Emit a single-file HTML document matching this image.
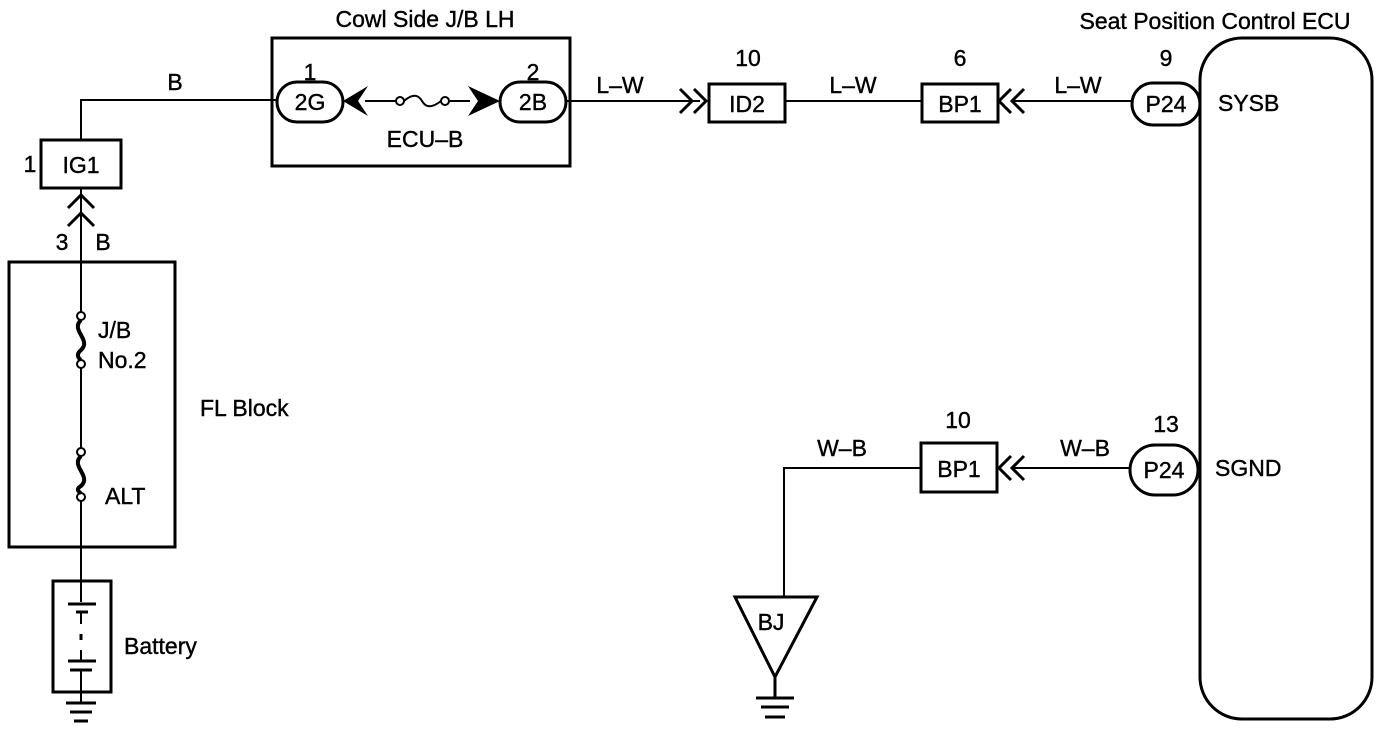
<!DOCTYPE html>
<html><head><meta charset="utf-8"><style>
html,body{margin:0;padding:0;background:#fff;}
svg{display:block;}
text{font-family:"Liberation Sans",Arial,sans-serif;font-size:23px;fill:#000;stroke:#000;stroke-width:0.4;}
</style></head><body>
<svg width="1392" height="730" viewBox="0 0 1392 730" xmlns="http://www.w3.org/2000/svg">
<g fill="none" stroke="#000" stroke-width="2">
<polyline points="81,140 81,100 277,100"/>
<rect x="41" y="140" width="80" height="48" stroke-width="3"/>
<line x1="81" y1="188" x2="81" y2="262"/>
<polyline points="68,208 81,195 94,208" stroke-width="3"/>
<polyline points="68,226 81,213 94,226" stroke-width="3"/>
<rect x="9" y="262" width="166" height="285" stroke-width="3"/>
<line x1="81" y1="262" x2="81" y2="312"/>
<circle cx="81" cy="316" r="4"/><circle cx="81" cy="364" r="4"/>
<path d="M81,320 C70,330 92,340 81,350 C74,356 81,360 81,360" stroke-width="4"/>
<line x1="81" y1="368" x2="81" y2="448"/>
<circle cx="81" cy="452" r="4"/><circle cx="81" cy="497" r="4"/>
<path d="M81,456 C70,466 92,476 81,486 C74,490 81,493 81,493" stroke-width="4"/>
<line x1="81" y1="501" x2="81" y2="602"/>
<rect x="53" y="581" width="58" height="111" stroke-width="3"/>
<line x1="68" y1="604" x2="96" y2="604" stroke-width="3"/>
<line x1="76" y1="612" x2="88" y2="612" stroke-width="3"/>
<line x1="81" y1="612" x2="81" y2="624"/>
<line x1="81" y1="634" x2="81" y2="640" stroke-width="3"/>
<line x1="81" y1="650" x2="81" y2="661"/>
<line x1="68" y1="661" x2="96" y2="661" stroke-width="3"/>
<line x1="70" y1="670" x2="92" y2="670" stroke-width="3"/>
<line x1="81" y1="670" x2="81" y2="703"/>
<line x1="66" y1="703" x2="96" y2="703" stroke-width="3"/>
<line x1="70" y1="712" x2="92" y2="712" stroke-width="3"/>
<line x1="74" y1="721" x2="88" y2="721" stroke-width="3"/>
<rect x="272" y="38" width="298" height="128" stroke-width="3"/>
<rect x="277" y="82" width="66" height="40" rx="20" stroke-width="3"/>
<rect x="500" y="82" width="66" height="40" rx="20" stroke-width="3"/>
<line x1="365" y1="101" x2="396" y2="101"/>
<circle cx="400" cy="101" r="4"/>
<path d="M404,101 C412,94 418,94 422,101 C426,108 432,108 441,101"/>
<circle cx="445" cy="101" r="4"/>
<line x1="449" y1="101" x2="470" y2="101"/>
<line x1="566" y1="101" x2="700" y2="101"/>
<polyline points="680,89 692,101 680,113" stroke-width="3"/>
<polyline points="694,89 706,101 694,113" stroke-width="3"/>
<rect x="709" y="84" width="76" height="38" stroke-width="3"/>
<line x1="785" y1="101" x2="922" y2="101"/>
<rect x="922" y="84" width="76" height="38" stroke-width="3"/>
<polyline points="1011,89 999,101 1011,113" stroke-width="3"/>
<polyline points="1024,89 1012,101 1024,113" stroke-width="3"/>
<line x1="1012" y1="101" x2="1132" y2="101"/>
<rect x="1132" y="83" width="68" height="42" rx="21" stroke-width="3"/>
<rect x="1200" y="38" width="172" height="681" rx="42" stroke-width="3"/>
<rect x="1130" y="445" width="68" height="50" rx="25" stroke-width="3"/>
<line x1="1012" y1="468" x2="1130" y2="468"/>
<polyline points="1011,456 999,468 1011,480" stroke-width="3"/>
<polyline points="1024,456 1012,468 1024,480" stroke-width="3"/>
<rect x="921" y="443" width="76" height="49" stroke-width="3"/>
<polyline points="921,468 784,468 784,597"/>
<polygon points="735,597 817,597 775,677" stroke-width="3"/>
<line x1="775" y1="677" x2="775" y2="697" stroke-width="3"/>
<line x1="756" y1="698" x2="794" y2="698" stroke-width="3"/>
<line x1="761" y1="707" x2="789" y2="707" stroke-width="3"/>
<line x1="765" y1="717" x2="785" y2="717" stroke-width="3"/>
</g>
<polygon points="343,101 368,86 358,101 368,116" fill="#000"/>
<polygon points="468,86 500,101 468,116 478,101" fill="#000"/>
<text x="425" y="27" text-anchor="middle">Cowl Side J/B LH</text>
<text x="1215" y="29" text-anchor="middle">Seat Position Control ECU</text>
<text x="175" y="90" text-anchor="middle">B</text>
<text x="30" y="172" text-anchor="middle">1</text>
<text x="81" y="173" text-anchor="middle">IG1</text>
<text x="62" y="250" text-anchor="middle">3</text>
<text x="103" y="250" text-anchor="middle">B</text>
<text x="98" y="338">J/B</text>
<text x="98" y="368">No.2</text>
<text x="105" y="504">ALT</text>
<text x="200" y="416">FL Block</text>
<text x="124" y="654">Battery</text>
<text x="310" y="80" text-anchor="middle">1</text>
<text x="533" y="80" text-anchor="middle">2</text>
<text x="310" y="110" text-anchor="middle">2G</text>
<text x="533" y="110" text-anchor="middle">2B</text>
<text x="425" y="147" text-anchor="middle">ECU–B</text>
<text x="620" y="93" text-anchor="middle">L–W</text>
<text x="748" y="66" text-anchor="middle">10</text>
<text x="747" y="112" text-anchor="middle">ID2</text>
<text x="853" y="93" text-anchor="middle">L–W</text>
<text x="960" y="66" text-anchor="middle">6</text>
<text x="960" y="112" text-anchor="middle">BP1</text>
<text x="1078" y="93" text-anchor="middle">L–W</text>
<text x="1166" y="66" text-anchor="middle">9</text>
<text x="1166" y="112" text-anchor="middle">P24</text>
<text x="1218" y="111">SYSB</text>
<text x="842" y="456" text-anchor="middle">W–B</text>
<text x="958" y="428" text-anchor="middle">10</text>
<text x="959" y="477" text-anchor="middle">BP1</text>
<text x="1085" y="456" text-anchor="middle">W–B</text>
<text x="1166" y="432" text-anchor="middle">13</text>
<text x="1164" y="478" text-anchor="middle">P24</text>
<text x="1215" y="476">SGND</text>
<text x="771" y="630" text-anchor="middle">BJ</text>
</svg>
</body></html>
